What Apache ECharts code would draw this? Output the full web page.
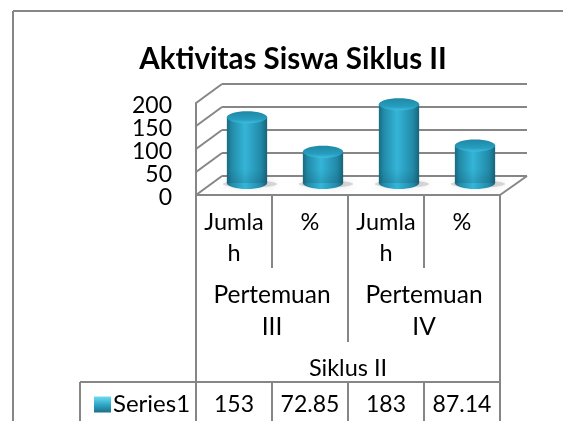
<!DOCTYPE html>
<html>
<head>
<meta charset="utf-8">
<style>html,body{margin:0;padding:0;background:#fff}#main{width:563px;height:421px}</style>
<script src="https://cdn.jsdelivr.net/npm/echarts@6/dist/echarts.min.js"></script>
</head>
<body>
<div id="main"></div>
<script>
var titleText = 'Aktivitas Siswa Siklus II';
var seriesName = 'Series1';
var categories = ['Jumla\nh', '%', 'Jumla\nh', '%'];
var meetings = ['Pertemuan\nIII', 'Pertemuan\nIV'];
var cycles = ['Siklus II'];
var values = [153, 72.85, 183, 87.14];
var yTicks = [0, 50, 100, 150, 200];

var lineColor = '#868686';
var fontFamily = 'Lato';
var myChart = echarts.init(document.getElementById('main'));

// 表格的一行: 只用坐标轴的标签, 不画轴线
function tableAxis(data, offset, lineHeight, fontSize) {
    return {
        type: 'category', gridIndex: 0, position: 'bottom', offset: offset, data: data,
        axisLine: {show: false}, axisTick: {show: false}, splitLine: {show: false},
        axisLabel: {interval: 0, margin: 0, color: '#000', fontFamily: fontFamily, fontSize: fontSize, lineHeight: lineHeight}
    };
}
function line(x1, y1, x2, y2) {
    return {type: 'line', z: 5, shape: {x1: x1, y1: y1, x2: x2, y2: y2}, style: {stroke: lineColor, lineWidth: 2}};
}

function renderFrame(params, api) {
    var cs = params.coordSys;
    var y = api.coord([0, api.value(0)])[1];
    var items = [{type: 'line', shape: {x1: cs.x, y1: y, x2: cs.x + 26, y2: y - 19}, style: {stroke: lineColor, lineWidth: 2}}];
    if (api.value(0) === 0) {
        items.push({type: 'line', shape: {x1: cs.x + cs.width, y1: y, x2: cs.x + cs.width + 27, y2: y - 19}, style: {stroke: lineColor, lineWidth: 2}});
    }
    return {type: 'group', children: items};
}

function renderCylinder(params, api) {
    var top = api.coord([api.value(0), api.value(1)]);
    var base = api.coord([api.value(0), 0]);
    var rx = api.size([1, 0])[0] * 0.265;
    var ry = 6;
    var cx = top[0];
    var side = new echarts.graphic.LinearGradient(0, 0, 1, 0, [
        {offset: 0, color: '#1a6a80'},
        {offset: 0.12, color: '#228ba8'},
        {offset: 0.45, color: '#34b5d8'},
        {offset: 0.85, color: '#2289a8'},
        {offset: 1, color: '#186478'}
    ]);
    var lid = new echarts.graphic.LinearGradient(0, 0, 0, 1, [
        {offset: 0, color: '#1f87a6'},
        {offset: 0.7, color: '#279ebf'},
        {offset: 1, color: '#3fbde0'}
    ]);
    return {type: 'group', children: [
        {type: 'ellipse', shape: {cx: cx + 3, cy: base[1] + 1, rx: rx + 7, ry: 3.5},
            style: {fill: 'rgba(150,150,150,0.35)', shadowBlur: 7, shadowColor: 'rgba(130,130,130,0.55)'}},
        {type: 'ellipse', shape: {cx: cx, cy: base[1], rx: rx, ry: ry}, style: {fill: side}},
        {type: 'rect', shape: {x: cx - rx, y: top[1], width: rx * 2, height: base[1] - top[1]}, style: {fill: side}},
        {type: 'rect', shape: {x: cx - rx, y: base[1] - 14, width: rx * 2, height: 14},
            style: {fill: new echarts.graphic.LinearGradient(0, 0, 0, 1, [
                {offset: 0, color: 'rgba(10,60,80,0)'}, {offset: 1, color: 'rgba(10,60,80,0.18)'}
            ])}},
        {type: 'ellipse', shape: {cx: cx, cy: top[1], rx: rx, ry: ry}, style: {fill: lid}}
    ]};
}

var option = {
    animation: false,
    backgroundColor: '#fff',
    title: {
        text: titleText, left: 288, top: 39, textAlign: 'center',
        textStyle: {fontFamily: fontFamily, fontWeight: 'bold', fontSize: 29.5, color: '#000'}
    },
    legend: {
        left: 89, top: 387.5, itemWidth: 17, itemHeight: 16, itemGap: 0, selectedMode: false,
        textStyle: {fontFamily: fontFamily, fontSize: 24, color: '#000', padding: [0, 0, 0, -3]},
        data: [{name: seriesName, icon: 'rect', itemStyle: {color: new echarts.graphic.LinearGradient(0, 0, 0, 1, [
            {offset: 0, color: '#6fdcf2'}, {offset: 0.5, color: '#2fa8c8'}, {offset: 1, color: '#1c6f88'}
        ])}}]
    },
    grid: [
        {left: 196, top: 103, width: 304, height: 92},
        {left: 209, top: 97, width: 304, height: 86},
        {left: 222, top: 84, width: 305, height: 92}
    ],
    xAxis: [
        {type: 'category', gridIndex: 0, data: categories, offset: 0,
            axisLine: {show: true, lineStyle: {color: lineColor, width: 2}}, axisTick: {show: false},
            axisLabel: {interval: 0, margin: 12, color: '#000', fontFamily: fontFamily, fontSize: 23.5, lineHeight: 31}},
        tableAxis(meetings, 84, 32, 24.5),
        tableAxis(cycles, 161, 24, 23.5),
        tableAxis(values.map(String), 198, 24, 23),
        {type: 'category', gridIndex: 1, data: categories, show: false},
        {type: 'category', gridIndex: 2, data: categories, show: false}
    ],
    yAxis: [
        {type: 'value', gridIndex: 0, min: 0, max: 200, interval: 50,
            axisLine: {show: true, lineStyle: {color: lineColor, width: 2}}, axisTick: {show: false}, splitLine: {show: false},
            axisLabel: {margin: 24, color: '#000', fontFamily: fontFamily, fontSize: 23, verticalAlign: 'top', lineHeight: 6}},
        {type: 'value', gridIndex: 1, min: 0, max: 200, interval: 50, show: false, splitLine: {show: false}},
        {type: 'value', gridIndex: 2, min: 0, max: 200, interval: 50,
            axisLine: {show: false}, axisTick: {show: false}, axisLabel: {show: false},
            splitLine: {show: true, lineStyle: {color: lineColor, width: 2}}}
    ],
    series: [
        {type: 'custom', name: 'frame', xAxisIndex: 0, yAxisIndex: 0, silent: true, z: 1,
            encode: {y: 0}, renderItem: renderFrame, data: yTicks.map(function (t) { return [t]; })},
        {type: 'custom', name: seriesName, xAxisIndex: 4, yAxisIndex: 1, z: 3,
            encode: {x: 0, y: 1}, renderItem: renderCylinder,
            data: values.map(function (v, i) { return [i, v]; })}
    ],
    graphic: [
        line(13, 11, 563, 11), line(13, 11, 13, 421),
        line(196, 195, 196, 421), line(500, 195, 500, 421),
        line(272, 195, 272, 268), line(424, 195, 424, 268), line(348, 195, 348, 342),
        line(80, 382, 500, 382), line(80, 382, 80, 421),
        line(272, 382, 272, 421), line(348, 382, 348, 421), line(424, 382, 424, 421)
    ]
};
myChart.setOption(option);
</script>
</body>
</html>
